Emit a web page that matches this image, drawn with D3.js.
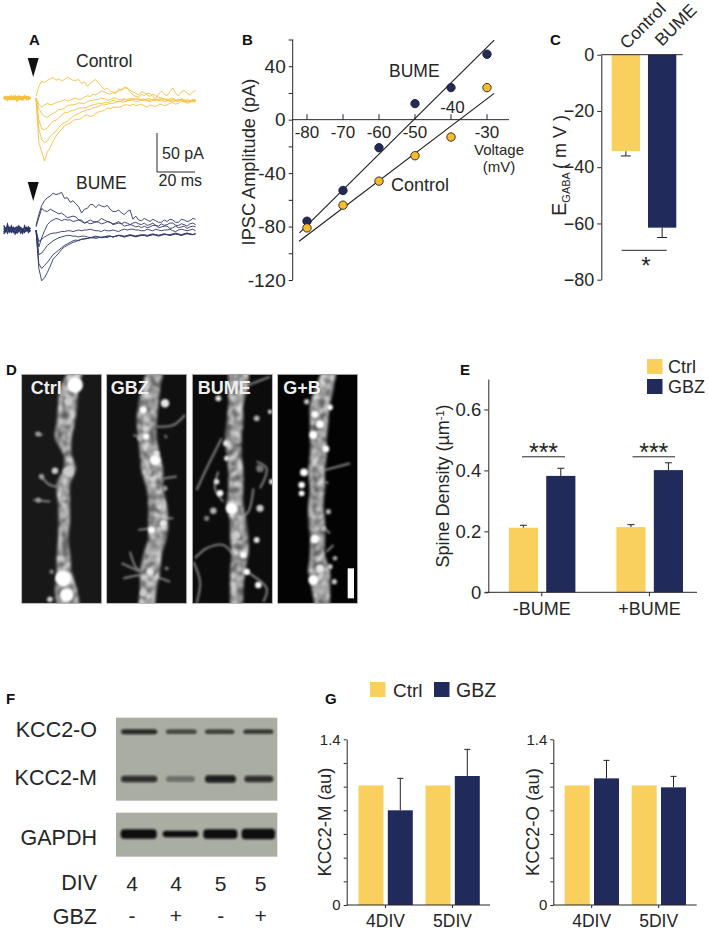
<!DOCTYPE html>
<html>
<head>
<meta charset="utf-8">
<script src="https://cdn.jsdelivr.net/npm/d3@7/dist/d3.min.js"></script>
<style>
  html, body { margin: 0; padding: 0; background: #fff; }
  svg { display: block; }
  text { font-family: "Liberation Sans", Arial, sans-serif; fill: #262626; }
  .tick text { font-family: "Liberation Sans", Arial, sans-serif; fill: #262626; }
  .panel { font-weight: bold; font-size: 15px; fill: #111; }
</style>
</head>
<body>
<svg id="fig" width="708" height="930"></svg>
<script>
// A: traces, pA sampled every 1.5 ms after the stimulus
const traceStep = 1.5;
const controlTraces = [
  [2,15,22,20,23,25,27,23,25,22,24,27,25,23,23,24,19,21,15,19,22,24,19,15,11,13,9,8,7,12,10,13,13,8,4,2,1,5,3,6,6,2,-1,5,9,5,3,8,13,6,3,8,10,6,4,8,10],
  [0,-8,-12,-9,-7,-9,-8,-6,-5,-4,-2,-4,-3,-1,0,-2,-1,1,3,2,5,4,7,9,8,6,5,7,6,9,11,14,13,10,8,6,4,8,7,4,2,5,3,1,0,-1,-3,-1,0,-3,-4,-1,-2,-4,-5,-3,-2],
  [0,-14,-20,-24,-25,-22,-20,-18,-15,-15,-13,-10,-9,-9,-8,-6,-7,-7,-5,-3,-3,-2,-2,0,-1,-3,-2,0,0,-2,-2,-1,-2,0,-1,-2,0,-3,-3,-1,-1,-3,-2,-3,-4,-2,-1,-4,-5,-3,-2,-4,-4,-2,-3,-5,-5],
  [0,-28,-40,-41,-39,-34,-30,-29,-26,-22,-19,-19,-17,-16,-15,-13,-13,-13,-12,-10,-9,-8,-7,-7,-6,-6,-5,-3,-4,-5,-4,-2,-3,-3,-2,-1,-2,-2,-1,-3,-3,-1,-2,-3,-1,-2,-3,-4,-2,-3,-3,-2,-4,-5,-3,-4,-4],
  [0,-40,-54,-58,-56,-50,-46,-43,-38,-34,-32,-30,-27,-24,-22,-20,-18,-17,-15,-15,-13,-12,-11,-9,-9,-8,-7,-7,-6,-4,-5,-5,-4,-2,-3,-5,-4,-3,-2,-4,-5,-3,-3,-1,-2,-5,-4,-3,-2,-4,-4,-2,-3,-5,-4,-2,-3],
  [0,-58,-70,-82,-70,-64,-56,-50,-44,-41,-36,-34,-33,-29,-28,-28,-26,-23,-22,-24,-23,-20,-18,-17,-16,-13,-14,-12,-12,-12,-11,-9,-9,-10,-8,-10,-9,-8,-10,-12,-9,-10,-11,-9,-8,-10,-9,-7,-6,-8,-7,-4,-5,-7,-6,-3,-4]
];
const bumeTraces = [
  [6,20,32,38,42,44,48,46,47,49,41,42,36,38,34,30,22,27,28,33,33,29,33,31,30,32,27,24,24,26,22,20,24,26,14,18,13,12,15,13,11,14,12,10,10,13,11,14,13,10,10,14,13,11,12,15,14],
  [4,16,28,25,24,27,25,23,21,22,19,16,17,18,17,13,13,9,11,13,11,10,12,15,13,11,10,8,9,11,8,10,9,7,9,10,8,7,9,6,7,9,6,5,8,6,7,9,9,6,6,8,7,5,8,9,7],
  [0,-22,-10,-1,7,11,13,15,14,12,14,13,13,11,12,13,11,9,10,8,9,11,10,8,9,11,10,7,8,9,8,5,6,7,6,4,5,3,5,3,4,6,6,3,4,5,5,2,3,5,3,4,5,2,4,5,4],
  [0,-15,-12,-9,-7,-5,-4,-4,-3,-2,-2,-1,-1,-2,-1,0,-1,0,0,1,0,-1,-1,-2,0,-1,-1,0,-1,-2,0,1,0,1,1,0,0,-1,-1,1,0,-1,1,0,-1,0,0,1,-1,-2,0,1,0,-1,0,1,-1],
  [0,-32,-30,-25,-20,-17,-14,-12,-10,-9,-8,-7,-7,-8,-8,-9,-8,-8,-9,-10,-9,-8,-9,-10,-9,-8,-8,-9,-8,-7,-8,-9,-8,-7,-8,-9,-8,-7,-7,-8,-7,-6,-7,-8,-7,-6,-6,-7,-6,-5,-6,-7,-6,-5,-5,-6,-5],
  [0,-44,-50,-46,-42,-37,-32,-29,-26,-23,-20,-18,-16,-14,-13,-14,-12,-11,-11,-10,-10,-11,-10,-9,-9,-10,-8,-9,-8,-7,-8,-9,-8,-7,-7,-8,-7,-6,-7,-8,-7,-6,-6,-7,-6,-5,-6,-7,-6,-5,-6,-7,-5,-4,-6,-6,-5],
  [0,-50,-66,-62,-55,-47,-38,-34,-30,-25,-22,-20,-18,-16,-15,-13,-12,-12,-11,-10,-10,-9,-9,-10,-9,-8,-8,-9,-8,-7,-7,-8,-7,-6,-7,-8,-7,-7,-6,-7,-6,-5,-6,-7,-6,-5,-6,-6,-5,-4,-5,-6,-5,-4,-5,-6,-5]
];
const baseTimes = [-17,-16,-15,-14,-13,-12,-11,-10,-9,-8,-7,-6,-5,-4,-3];
const controlBase = [
  [1,-1,2,0,-2,1,3,-1,1,-2,2,0,-1,1,0],
  [-1,2,-3,1,0,-2,1,-4,0,2,-1,1,2,-2,1],
  [2,0,1,-2,3,-1,0,2,-2,1,0,3,-2,0,-1],
  [0,-2,0,2,-1,2,-2,1,3,-1,-3,1,0,2,-1]
];
const bumeBase = [
  [6,1,4,-2,5,0,3,-1,5,1,-2,3,0,4,1],
  [-3,2,-4,1,-2,3,-5,0,2,-4,1,-2,3,-3,0],
  [2,-2,7,-1,3,-3,1,4,-2,2,-4,5,-1,2,-2],
  [-5,-1,0,3,-3,1,-1,-4,0,3,0,-3,1,-1,3]
];

// B: IV curve
const voltages = [-80,-70,-60,-50,-40,-30];
const ivBume = [-76,-53,-21,12,24,49];
const ivControl = [-81,-64,-46,-27,-13,24];
const fitBume = [[-82.1,-84.7],[-28,59.6]];
const fitControl = [[-82.2,-91],[-28,19.7]];

// C: E_GABA
const egabaGroups = ["Control","BUME"];
const egabaValues = [-34.3,-61.5];
const egabaErrEnd = [-36,-65];

// E: spine density
const spineGroups = ["-BUME","+BUME"];
const spineCtrl = [0.212,0.214];
const spineGbz = [0.382,0.401];
const spineCtrlErr = [0.22,0.222];
const spineGbzErr = [0.407,0.425];

// G: KCC2 levels
const divGroups = ["4DIV","5DIV"];
const kccMCtrl = [1.01,1.01];
const kccMGbz = [0.8,1.09];
const kccMGbzErr = [1.07,1.315];
const kccOCtrl = [1.01,1.01];
const kccOGbz = [1.07,0.994];
const kccOGbzErr = [1.222,1.087];

const panelNames = ["Ctrl","GBZ","BUME","G+B"];
const panelEdges = [[65,305],[320,560],[577,817],[833,1073]];
const panelLabelOffset = [27,12,16,17];
const panelShade = ["#181818","#101010","#0c0c0c","#030303"];
const dendrites = [
  [[50,205,250],[100,180,235],[150,175,232],[200,170,225],[250,165,215],[300,190,215],[340,190,228],[390,170,210],[450,175,210],[500,175,210],[550,175,205],[600,170,210],[650,170,215],[700,165,230],[755,170,240]],
  [[50,440,490],[100,425,480],[150,415,475],[200,410,470],[250,415,470],[300,420,480],[350,425,490],[400,440,490],[450,445,500],[500,445,505],[550,445,500],[600,430,485],[650,420,480],[700,420,470],[755,415,465]],
  [[50,685,745],[100,685,745],[150,685,730],[200,680,730],[250,675,725],[300,680,725],[350,685,730],[400,685,730],[450,680,730],[500,690,740],[550,690,745],[600,695,745],[650,690,735],[700,690,730],[755,690,730]],
  [[50,965,1010],[100,945,1000],[150,930,990],[200,930,985],[250,930,980],[300,930,980],[350,925,975],[400,930,975],[450,925,970],[500,925,975],[550,930,975],[600,930,975],[650,925,990],[700,935,990],[755,945,990]]
];
// [x, y, r, brightness]
const spots = [
  [[225,90,22,1],[205,140,10,.8],[205,350,14,.8],[190,670,22,1],[200,720,18,1],[190,480,8,.7],[190,430,8,.7],[115,237,6,.6],[165,347,8,.8],[125,365,6,.6],[115,435,6,.6],[155,650,5,.5],[150,733,7,.8]],
  [[430,165,9,1],[495,145,11,.9],[438,245,7,1],[465,315,14,1],[470,295,7,.9],[455,525,9,1],[490,505,9,.9],[480,455,7,.8],[450,650,9,.9],[430,715,8,.8],[495,400,6,.6],[420,250,6,.7],[445,350,8,.7],[500,640,4,.5]],
  [[655,130,7,.9],[770,190,7,.7],[810,170,5,.8],[678,265,7,.9],[680,310,6,.9],[650,380,6,.9],[660,415,8,1],[695,460,16,1],[640,467,8,.7],[620,490,6,.5],[780,460,9,.8],[770,555,7,.9],[730,600,8,1],[710,540,10,.8],[740,650,8,1],[775,690,8,1],[815,380,6,.9],[780,340,10,.45]],
  [[945,178,9,1],[990,157,7,1],[960,208,10,1],[940,240,10,1],[978,282,8,1],[912,352,10,1],[905,390,8,1],[905,415,7,1],[945,552,11,1],[985,470,6,.7],[1005,610,5,.7],[990,635,6,.8],[940,675,13,1],[1003,680,6,.8],[960,640,10,.9],[970,520,6,.7],[920,140,6,.8],[958,705,5,.7]]
];
const spines = [
  [[[100,435],[150,440]],[[120,360],[150,390],[175,395]],[[105,235],[128,240]]],
  [[[470,215],[520,210],[555,180]],[[400,240],[430,250]],[[495,240],[500,250]],[[490,370],[530,365]],[[490,490],[520,490]],[[415,525],[450,520]],[[390,590],[410,640],[430,650]],[[370,670],[440,660],[510,680]],[[365,625],[420,650]]],
  [[[590,405],[620,340],[665,250]],[[655,350],[645,400],[670,440]],[[585,610],[620,580],[670,570],[700,600]],[[760,400],[745,470],[720,490]],[[740,650],[800,700],[790,740]],[[770,320],[800,340],[780,400]],[[745,90],[810,65]],[[580,620],[600,680],[590,745]]],
  [[[975,345],[1050,325]],[[975,380],[985,385]],[[960,510],[990,535]],[[980,590],[1000,570]]]
];

// F: blot bands, lane extents in zoomed picture units, darkness 0..1
const blotO = { y: 215, h: [15,13,13,13], lanes: [[363,472],[498,590],[615,703],[730,820]], dark: [0.85,0.7,0.75,0.8] };
const blotM = { y: 357, h: [20,18,22,20], lanes: [[363,472],[498,585],[615,708],[733,820]], dark: [0.8,0.35,0.9,0.8] };
const blotG = { y: 522, h: [28,20,28,32], lanes: [[362,470],[488,595],[610,712],[725,825]], dark: [1,1,1,1] };
const blotNames = ["KCC2-O","KCC2-M","GAPDH"];
const divRow = ["4","4","5","5"];
const gbzRow = ["-","+","-","+"];

const GOLD = "#f9cf5d", NAVY = "#212b5b", TRACE_GOLD = "#f6bf40", TRACE_NAVY = "#2c3668", INK = "#262626";

const svg = d3.select("#fig");
const defs = svg.append("defs");

function blurFilter(id, sd) {
  defs.append("filter").attr("id", id)
    .attr("x", "-30%").attr("y", "-30%").attr("width", "160%").attr("height", "160%")
    .append("feGaussianBlur").attr("stdDeviation", sd);
}
blurFilter("soft", 0.9);
blurFilter("blur1", 1.3);
blurFilter("blurBand", 0.9);

// mottled look of the dendrite shafts
const mottled = defs.append("filter").attr("id", "mottle")
  .attr("x", "-20%").attr("y", "-5%").attr("width", "140%").attr("height", "110%")
  .attr("color-interpolation-filters", "sRGB");
mottled.append("feTurbulence").attr("type", "fractalNoise")
  .attr("baseFrequency", 0.16).attr("numOctaves", 2).attr("seed", 4).attr("result", "n");
mottled.append("feColorMatrix").attr("in", "n").attr("type", "matrix")
  .attr("values", "2.2 0 0 0 -0.6  2.2 0 0 0 -0.6  2.2 0 0 0 -0.6  0 0 0 0 1")
  .attr("result", "g");
mottled.append("feComposite").attr("in", "SourceGraphic").attr("in2", "g")
  .attr("operator", "arithmetic").attr("k1", 0.55).attr("k2", 0.38).attr("k3", 0).attr("k4", 0).attr("result", "m");
mottled.append("feGaussianBlur").attr("in", "m").attr("stdDeviation", 1.5);

function label(x, y, str, size, opts = {}) {
  return svg.append("text")
    .attr("x", x).attr("y", y)
    .attr("dy", "0.35em")
    .attr("text-anchor", opts.anchor || "start")
    .attr("transform", opts.rotate ? `rotate(${opts.rotate},${x},${y})` : null)
    .style("font-size", size + "px")
    .text(str);
}

function styleAxis(g, size) {
  g.selectAll("path.domain").attr("stroke", INK).attr("stroke-width", 1);
  g.selectAll(".tick line").attr("stroke", INK).attr("stroke-width", 1);
  g.selectAll(".tick text").style("font-size", size + "px");
}

// ---- A ----
[["A", 29, 40], ["B", 242, 40], ["C", 550, 40], ["D", 6, 370], ["E", 460, 370], ["F", 6, 699], ["G", 325, 699]]
  .forEach(d => svg.append("text").attr("class", "panel").attr("x", d[1]).attr("y", d[2]).attr("dy", "0.35em").text(d[0]));

const tX = d3.scaleLinear().domain([0, 84]).range([36, 195.6]);
const controlY = d3.scaleLinear().domain([0, 50]).range([98, 59.5]);
const bumeY = d3.scaleLinear().domain([0, 50]).range([230, 191.5]);

function drawTraces(sets, base, y, color) {
  const line = d3.line().x(d => tX(d[0])).y(d => y(d[1]));
  const g = svg.append("g").attr("fill", "none").attr("stroke", color).attr("stroke-width", 0.9);
  sets.forEach(s => g.append("path").attr("d", line(s.map((v, i) => [i * traceStep, v]))));
  base.forEach(s => g.append("path").attr("stroke-width", 1.4).attr("d", line(s.map((v, i) => [baseTimes[i], v]))));
}
drawTraces(controlTraces, controlBase, controlY, TRACE_GOLD);
drawTraces(bumeTraces, bumeBase, bumeY, TRACE_NAVY);

const arrow = d3.line();
[58, 182].forEach(top => {
  svg.append("path").attr("fill", "#111")
    .attr("d", arrow([[27.7, top], [38.7, top], [33.2, top + 19]]) + "Z");
});
label(76, 60.5, "Control", 17.5);
label(76, 183, "BUME", 17.5);
svg.append("path").attr("fill", "none").attr("stroke", INK).attr("stroke-width", 1)
  .attr("d", arrow([[157, 133], [157, 172], [195, 172]]));
label(162, 153, "50 pA", 16);
label(158.5, 180, "20 ms", 16);

// ---- B ----
const bX = d3.scaleLinear().domain([-80, -30]).range([307, 487]);
const bY = d3.scaleLinear().domain([60, -120]).range([39.5, 280]);

svg.append("g").attr("transform", "translate(292.7,0)")
  .call(d3.axisLeft(bY).tickValues(d3.range(-120, 61, 20)).tickSize(4).tickSizeOuter(0)
    .tickFormat(d => (d % 40 === 0 && d !== 60 ? d : "")))
  .call(g => g.select(".domain").attr("d", `M0,${bY(60)}H0V${bY(-120)}`))
  .call(g => styleAxis(g, 19));

const bAxisY = bY(0);
svg.append("line").attr("x1", 292.7).attr("x2", 509).attr("y1", bAxisY).attr("y2", bAxisY)
  .attr("stroke", INK);
svg.append("g").selectAll("line").data(voltages).join("line")
  .attr("x1", d => bX(d)).attr("x2", d => bX(d))
  .attr("y1", bAxisY).attr("y2", bAxisY - 5.5).attr("stroke", INK);
svg.append("g").selectAll("text").data(voltages).join("text")
  .attr("x", d => d === -40 ? bX(d) + 1.5 : bX(d)).attr("y", d => d === -40 ? 107 : 132.5)
  .attr("dy", "0.35em").attr("text-anchor", "middle").style("font-size", "17px").text(d => d);

const fitLine = d3.line().x(d => bX(d[0])).y(d => bY(d[1]));
[fitBume, fitControl].forEach(f =>
  svg.append("path").attr("d", fitLine(f)).attr("stroke", "#1c1c1c").attr("stroke-width", 1.1).attr("fill", "none"));

function ivPoints(vals, color) {
  svg.append("g").selectAll("circle").data(vals).join("circle")
    .attr("cx", (d, i) => bX(voltages[i])).attr("cy", d => bY(d)).attr("r", 4.2)
    .attr("fill", color).attr("stroke", "#222").attr("stroke-width", 0.9);
}
ivPoints(ivBume, NAVY);
ivPoints(ivControl, "#f7bc2c");

label(389, 70.5, "BUME", 17.5);
label(391, 185, "Control", 18);
label(499, 150, "Voltage", 15, { anchor: "middle" });
label(499, 166.5, "(mV)", 15, { anchor: "middle" });
label(249, 162, "IPSC Amplitude (pA)", 18.2, { anchor: "middle", rotate: -90 });

// Bars grouped or single, drawn from band scales
function errorBars(xf, y, vals, ends, capW) {
  const g = svg.append("g").attr("stroke", "#222").attr("stroke-width", 1).attr("fill", "none");
  vals.forEach((v, i) => {
    g.append("line").attr("x1", xf(i)).attr("x2", xf(i)).attr("y1", y(v)).attr("y2", y(ends[i]));
    g.append("line").attr("x1", xf(i) - capW / 2).attr("x2", xf(i) + capW / 2).attr("y1", y(ends[i])).attr("y2", y(ends[i]));
  });
}

// ---- C ----
const cX = d3.scaleBand().domain(egabaGroups).range([611.7, 676.3]).paddingInner(0.22);
const cY = d3.scaleLinear().domain([0, -80]).range([54.7, 279.7]);
errorBars(i => cX(egabaGroups[i]) + cX.bandwidth() / 2, cY, egabaValues, egabaErrEnd, 10);
svg.append("g").selectAll("rect").data(egabaValues).join("rect")
  .attr("x", (d, i) => cX(egabaGroups[i])).attr("y", cY(0))
  .attr("width", cX.bandwidth()).attr("height", d => cY(d) - cY(0))
  .attr("fill", (d, i) => i ? NAVY : GOLD);
svg.append("g").attr("transform", "translate(601.3,0)")
  .call(d3.axisLeft(cY).tickValues(d3.range(0, -81, -20)).tickSize(4).tickSizeOuter(0))
  .call(g => styleAxis(g, 18));
svg.append("line").attr("x1", 601.3).attr("x2", 682.7).attr("y1", cY(0)).attr("y2", cY(0)).attr("stroke", INK);
label(627, 50, "Control", 17.5, { rotate: -45 }).attr("dy", 0);
label(662, 47, "BUME", 17.5, { rotate: -45 }).attr("dy", 0);
svg.append("line").attr("x1", 621.7).attr("x2", 666.7).attr("y1", 250.3).attr("y2", 250.3).attr("stroke", INK);
label(646, 266, "*", 24, { anchor: "middle" });
const eg = svg.append("text").attr("transform", "translate(566,216) rotate(-90)").style("font-size", "20px");
eg.append("tspan").text("E");
eg.append("tspan").attr("dy", 4).style("font-size", "11px").text("GABA");
eg.append("tspan").attr("dy", -4).attr("dx", 3).style("font-size", "18px").text("( m V )");

// ---- D ----
const imgX = d3.scaleLinear().domain([0, 1110]).range([0, 370]);
const imgY = d3.scaleLinear().domain([0, 780]).range([355, 615]);
const shaft = d3.area().y(d => imgY(d[0])).x0(d => imgX(d[1])).x1(d => imgX(d[2])).curve(d3.curveCatmullRom);
const spineLine = d3.line().x(d => imgX(d[0])).y(d => imgY(d[1])).curve(d3.curveCatmullRom);
const spotShade = d3.scaleLinear().domain([0, 1]).range(["#000", "#fff"]);

panelNames.forEach((name, i) => {
  const [x0, x1] = panelEdges[i];
  const clipId = "clip" + i;
  defs.append("clipPath").attr("id", clipId).append("rect")
    .attr("x", imgX(x0)).attr("y", imgY(58)).attr("width", imgX(x1) - imgX(x0)).attr("height", imgY(745) - imgY(58));
  const g = svg.append("g").attr("clip-path", `url(#${clipId})`);
  g.append("rect").attr("x", imgX(x0)).attr("y", imgY(58))
    .attr("width", imgX(x1) - imgX(x0)).attr("height", imgY(745) - imgY(58)).attr("fill", panelShade[i]);
  g.append("g").attr("filter", "url(#soft)").selectAll("path").data(spines[i]).join("path")
    .attr("d", spineLine).attr("fill", "none").attr("stroke", "#7c7c7c").attr("stroke-width", 2.2);
  g.append("path").datum(dendrites[i]).attr("d", shaft).attr("fill", "#f0f0f0").attr("filter", "url(#mottle)");
  g.append("g").attr("filter", "url(#blur1)").selectAll("circle").data(spots[i]).join("circle")
    .attr("cx", d => imgX(d[0])).attr("cy", d => imgY(d[1])).attr("r", d => imgX(d[2]) + 0.6)
    .attr("fill", d => spotShade(d[3]));
  svg.append("rect").attr("x", imgX(x0)).attr("y", imgY(58))
    .attr("width", imgX(x1) - imgX(x0)).attr("height", imgY(745) - imgY(58))
    .attr("fill", "none").attr("stroke", "#a8a8a8").attr("stroke-width", 0.8);
  svg.append("text").attr("x", imgX(x0 + panelLabelOffset[i])).attr("y", imgY(97)).attr("dy", "0.35em")
    .style("font-size", "18px").style("font-weight", "bold").style("fill", "#eee").text(name);
});
svg.append("rect").attr("x", imgX(1043)).attr("y", imgY(640))
  .attr("width", imgX(19)).attr("height", imgY(730) - imgY(640)).attr("fill", "#fff");

// ---- E ----
const eGroup = d3.scaleBand().domain(spineGroups).range([488, 703.2]);
const eInner = d3.scaleBand().domain(["Ctrl", "GBZ"]).range([20.8, 87.4]).paddingInner(0.22);
const eY = d3.scaleLinear().domain([0, 0.7]).range([592.3, 379]);
function groupedBars(groups, gs, inner, y, ctrl, gbz) {
  [[ctrl, "Ctrl", GOLD], [gbz, "GBZ", NAVY]].forEach(([vals, k, c]) => {
    svg.append("g").selectAll("rect").data(vals).join("rect")
      .attr("x", (d, i) => gs(groups[i]) + inner(k)).attr("y", d => y(d))
      .attr("width", inner.bandwidth()).attr("height", d => y(0) - y(d)).attr("fill", c);
  });
}
const eCentre = k => i => eGroup(spineGroups[i]) + eInner(k) + eInner.bandwidth() / 2;
errorBars(eCentre("Ctrl"), eY, spineCtrl, spineCtrlErr, 7);
errorBars(eCentre("GBZ"), eY, spineGbz, spineGbzErr, 7);
groupedBars(spineGroups, eGroup, eInner, eY, spineCtrl, spineGbz);
svg.append("g").attr("transform", "translate(488.3,0)")
  .call(d3.axisLeft(eY).tickValues([0, 0.2, 0.4, 0.6]).tickSize(4).tickSizeOuter(0).tickFormat(d => d === 0 ? "0" : d3.format(".1f")(d)))
  .call(g => styleAxis(g, 18.5));
svg.append("g").attr("transform", "translate(0,592.3)")
  .call(d3.axisBottom(eGroup).tickSize(4).tickSizeOuter(0).tickPadding(6))
  .call(g => g.select(".domain").attr("d", "M485,0H697"))
  .call(g => styleAxis(g, 18));
[[522, 565], [632.5, 675]].forEach(([a, b]) => {
  svg.append("line").attr("x1", a).attr("x2", b).attr("y1", 456.8).attr("y2", 456.8).attr("stroke", INK);
  label((a + b) / 2, 452, "***", 25, { anchor: "middle" });
});
label(443, 486, "Spine Density (µm", 18, { anchor: "middle", rotate: -90 })
  .call(t => t.append("tspan").attr("dy", -5).style("font-size", "11px").text("-1"))
  .call(t => t.append("tspan").attr("dy", 5).text(")"));

function legend(items) {
  items.forEach(d => {
    svg.append("rect").attr("x", d.x).attr("y", d.y).attr("width", 15.5).attr("height", 15).attr("fill", d.c);
    label(d.tx, d.y + 8, d.t, d.size);
  });
}
legend([
  { x: 647, y: 359, c: GOLD, tx: 668, t: "Ctrl", size: 18 },
  { x: 647, y: 379, c: NAVY, tx: 668, t: "GBZ", size: 18 },
  { x: 370, y: 682, c: GOLD, tx: 393, t: "Ctrl", size: 19 },
  { x: 434, y: 682, c: NAVY, tx: 456, t: "GBZ", size: 19.5 }
]);

// ---- F ----
const blotX = d3.scaleLinear().domain([0, 900]).range([0, 300]);
const blotY = d3.scaleLinear().domain([0, 810]).range([660, 930]);
[[173, 422], [458, 590]].forEach(([a, b]) => {
  svg.append("rect").attr("x", blotX(348)).attr("width", blotX(484))
    .attr("y", blotY(a)).attr("height", blotY(b) - blotY(a)).attr("fill", "#a9ada2");
});
[blotO, blotM, blotG].forEach(row => {
  svg.append("g").attr("filter", "url(#blurBand)").selectAll("rect").data(row.lanes).join("rect")
    .attr("x", d => blotX(d[0])).attr("width", d => blotX(d[1] - d[0]))
    .attr("y", (d, i) => blotY(row.y - row.h[i] / 2)).attr("height", (d, i) => blotY(row.h[i]) - blotY(0))
    .attr("rx", 3.5).attr("fill", "#0a0c0a").attr("opacity", (d, i) => row.dark[i]);
});
[["KCC2-O", 729], ["KCC2-M", 777], ["GAPDH", 837], ["DIV", 882], ["GBZ", 916]].forEach(d =>
  label(97, d[1], d[0], 21.5, { anchor: "end" }));
const laneX = [132, 176, 220.7, 260.7];
divRow.forEach((d, i) => label(laneX[i], 884, d, 21, { anchor: "middle" }));
gbzRow.forEach((d, i) => label(laneX[i], 916, d, 21, { anchor: "middle" }));

// ---- G ----
function kccChart(axisX, rangeStart, ylab, labX, gbz, gbzErr, ctrl, tickEnd) {
  const gs = d3.scaleBand().domain(divGroups).range([rangeStart, rangeStart + 134]);
  const inner = d3.scaleBand().domain(["Ctrl", "GBZ"]).range([6.5, 60.8]).paddingInner(0.147);
  const y = d3.scaleLinear().domain([0, 1.4]).range([905, 739.3]);
  errorBars(i => gs(divGroups[i]) + inner("GBZ") + inner.bandwidth() / 2, y, gbz, gbzErr, 6);
  groupedBars(divGroups, gs, inner, y, ctrl, gbz);
  svg.append("g").attr("transform", `translate(${axisX},0)`)
    .call(d3.axisLeft(y).tickValues(d3.range(0, 8).map(i => i * 0.2)).tickSize(3).tickSizeOuter(0)
      .tickFormat(d => d === 0 ? "0" : (d > 1.3 ? "1.4" : "")))
    .call(g => styleAxis(g, 15));
  svg.append("g").attr("transform", "translate(0,905)")
    .call(d3.axisBottom(gs).tickSize(3).tickSizeOuter(0).tickPadding(7))
    .call(g => g.select(".domain").attr("d", `M${axisX},0H${tickEnd}`))
    .call(g => styleAxis(g, 17.5));
  label(labX, 822, ylab, 18.5, { anchor: "middle", rotate: -90 });
}
kccChart(346.7, 352, "KCC2-M (au)", 325, kccMGbz, kccMGbzErr, kccMCtrl, 490);
kccChart(553.3, 558.2, "KCC2-O (au)", 533, kccOGbz, kccOGbzErr, kccOCtrl, 696.7);
</script>
</body>
</html>
